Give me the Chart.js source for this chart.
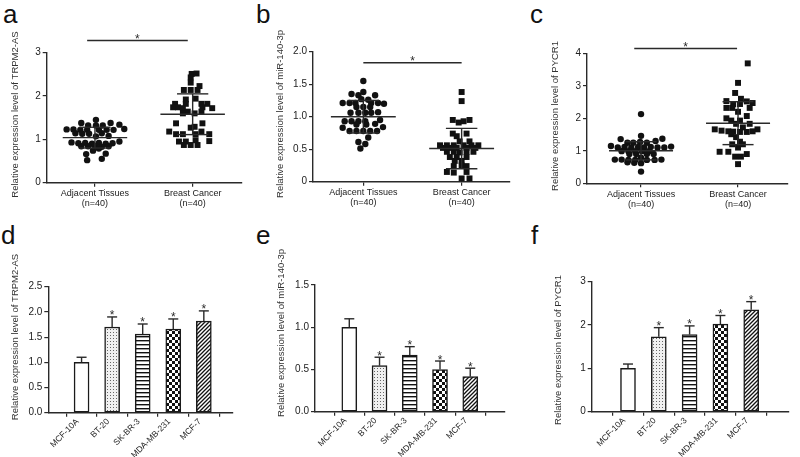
<!DOCTYPE html>
<html>
<head>
<meta charset="utf-8">
<script src="https://cdn.jsdelivr.net/npm/chart.js@4.4.1/dist/chart.umd.min.js"></script>
<style>
  body { margin: 0; background: #fff; width: 800px; height: 457px; position: relative; overflow: hidden;
         font-family: "Liberation Sans", Arial, sans-serif; }
  canvas { position: absolute; }
  .tag { position: absolute; font-size: 26px; line-height: 26px; color: #111; }
</style>
</head>
<body>
<div class="tag" style="left:3px;top:1px">a</div>
<div class="tag" style="left:256px;top:1px">b</div>
<div class="tag" style="left:530px;top:1px">c</div>
<div class="tag" style="left:1px;top:222px">d</div>
<div class="tag" style="left:256px;top:222px">e</div>
<div class="tag" style="left:531px;top:222px">f</div>
<canvas id="pa"></canvas>
<canvas id="pb"></canvas>
<canvas id="pc"></canvas>
<canvas id="pd"></canvas>
<canvas id="pe"></canvas>
<canvas id="pf"></canvas>
<script>
// ---- data ----
const groups = [["Adjacent Tissues", "(n=40)"], ["Breast Cancer", "(n=40)"]];
const cellLines = ["MCF-10A", "BT-20", "SK-BR-3", "MDA-MB-231", "MCF-7"];
const cellStars = ["", "*", "*", "*", "*"];

// [jitter, value] per sample
const trpm2Adjacent = [
  [0.01,1.45],[-0.14,1.38],[0.16,1.38],
  [-0.07,1.32],[0.01,1.32],[0.08,1.32],[0.25,1.34],
  [-0.29,1.23],[-0.22,1.23],[-0.15,1.22],[-0.08,1.22],[0.04,1.22],[0.12,1.22],[0.19,1.22],[0.30,1.24],
  [-0.20,1.14],[-0.13,1.13],[-0.06,1.13],[0.07,1.14],[0.14,1.08],[0.01,1.07],
  [-0.24,0.93],[-0.17,0.91],[-0.10,0.92],[-0.03,0.90],[0.04,0.92],[0.11,0.90],[0.18,0.91],[0.25,0.95],
  [-0.14,0.84],[-0.07,0.84],[0.00,0.85],[0.07,0.83],[0.14,0.84],
  [-0.02,0.74],[0.04,0.79],[-0.09,0.66],[0.11,0.67],[-0.08,0.52],[0.07,0.55]
];
const trpm2Cancer = [
  [-0.01,2.51],[0.04,2.52],[-0.02,2.43],[-0.02,2.31],[0.07,2.23],
  [-0.09,2.14],[-0.02,2.14],[0.05,2.14],[-0.07,1.92],[0.03,1.94],
  [-0.18,1.82],[-0.07,1.82],[0.09,1.82],[0.15,1.82],
  [-0.20,1.74],[-0.15,1.74],[-0.10,1.72],[0.10,1.74],[0.20,1.72],
  [-0.05,1.64],[0.09,1.64],[-0.10,1.60],[0.02,1.60],
  [-0.17,1.37],[0.10,1.37],[-0.02,1.27],[0.02,1.29],[-0.24,1.18],[0.09,1.18],
  [-0.17,1.12],[-0.10,1.12],[0.03,1.12],[0.17,1.12],
  [0.03,0.98],[-0.14,0.95],[-0.07,0.95],[0.17,0.96],[-0.09,0.87],[-0.02,0.87],[0.05,0.87]
];
const trpm2Mean = [1.04, 1.58];
const trpm2Sd = [0.24, 0.47];

const mirAdjacent = [
  [0.00,1.55],[0.00,1.38],[-0.12,1.35],[-0.05,1.33],[0.12,1.33],[-0.02,1.27],[0.05,1.26],
  [-0.21,1.21],[-0.14,1.21],[-0.08,1.21],[0.08,1.21],[0.15,1.21],[0.21,1.20],
  [-0.07,1.15],[0.00,1.15],[0.07,1.15],
  [-0.13,1.06],[-0.05,1.06],[0.02,1.06],[0.08,1.06],[0.15,1.07],
  [-0.19,0.93],[-0.12,0.93],[-0.05,0.93],[0.02,0.93],[0.17,0.95],
  [-0.07,0.88],[0.03,0.88],[0.12,0.89],[-0.21,0.83],[0.20,0.84],
  [-0.14,0.78],[-0.07,0.78],[0.00,0.78],[0.07,0.78],[0.14,0.78],
  [0.05,0.68],[-0.05,0.61],[0.02,0.58],[-0.03,0.51]
];
const mirCancer = [
  [0.00,1.38],[0.00,1.24],[-0.09,0.95],[0.08,0.95],[-0.03,0.91],[0.02,0.93],
  [-0.09,0.74],[0.05,0.74],[-0.05,0.70],[-0.02,0.62],[0.08,0.62],
  [-0.22,0.56],[-0.15,0.56],[-0.08,0.56],[0.02,0.56],[0.10,0.56],[0.17,0.56],
  [-0.19,0.52],[-0.12,0.52],[-0.05,0.52],[0.05,0.52],[0.14,0.52],
  [-0.15,0.46],[-0.08,0.46],[-0.02,0.45],[0.05,0.46],[0.12,0.46],
  [-0.12,0.38],[-0.05,0.38],[0.05,0.38],[-0.07,0.32],[0.00,0.32],
  [-0.08,0.24],[0.00,0.25],[0.05,0.24],
  [-0.15,0.15],[-0.08,0.14],[0.05,0.15],[0.00,0.05],[0.08,0.05]
];
const mirMean = [1.00, 0.51];
const mirSd = [0.25, 0.31];

const pycrAdjacent = [
  [0.00,2.13],[0.00,1.46],[-0.21,1.36],[0.22,1.37],
  [-0.14,1.25],[-0.08,1.25],[-0.01,1.27],[0.06,1.25],[0.15,1.30],
  [-0.31,1.15],[-0.24,1.10],[-0.17,1.12],[-0.10,1.10],[-0.03,1.12],[0.03,1.10],[0.10,1.12],[0.17,1.10],[0.24,1.10],[0.31,1.13],
  [-0.20,0.99],[-0.13,0.99],[-0.06,0.99],[0.01,0.99],[0.08,0.99],
  [-0.12,0.90],[-0.05,0.90],[0.06,0.90],[0.13,0.90],[0.00,0.79],
  [-0.27,0.73],[-0.20,0.73],[-0.13,0.72],[-0.06,0.72],[0.06,0.72],[0.14,0.72],[0.21,0.73],
  [-0.14,0.65],[-0.07,0.63],[0.00,0.62],[0.00,0.36]
];
const pycrCancer = [
  [0.10,3.69],[0.00,3.09],[-0.03,2.78],[0.03,2.60],[-0.12,2.53],[0.09,2.52],[0.15,2.47],
  [-0.05,2.43],[0.02,2.44],[-0.12,2.32],[-0.06,2.32],[0.12,2.32],
  [0.00,2.20],[0.09,2.07],[-0.12,2.00],[-0.07,1.93],[0.02,1.93],
  [-0.02,1.83],[0.12,1.83],[0.05,1.72],
  [-0.24,1.66],[-0.17,1.62],[-0.10,1.60],[0.20,1.66],
  [-0.05,1.59],[0.02,1.58],[0.09,1.58],[0.15,1.60],
  [-0.07,1.51],[-0.02,1.42],[0.02,1.28],[-0.06,1.20],[0.05,1.20],[0.00,1.10],
  [-0.19,0.97],[-0.10,0.97],[0.09,0.90],[-0.03,0.82],[0.03,0.82],[0.00,0.59]
];
const pycrMean = [1.00, 1.85];
const pycrSd = [0.28, 0.66];

const trpm2Cells = [1.00, 1.70, 1.56, 1.66, 1.82];
const trpm2CellsErr = [0.10, 0.20, 0.20, 0.20, 0.20];
const mirCells = [1.00, 0.545, 0.67, 0.50, 0.415];
const mirCellsErr = [0.10, 0.10, 0.10, 0.10, 0.10];
const pycrCells = [1.00, 1.73, 1.78, 2.02, 2.35];
const pycrCellsErr = [0.10, 0.21, 0.20, 0.20, 0.19];

// ---- style helpers ----
const FONT = '"Liberation Sans", Arial, sans-serif';
Chart.defaults.font.family = FONT;
Chart.defaults.color = '#222';
const INK = '#2a2a2a';

function pattern(w, h, draw) {
  const c = document.createElement('canvas');
  c.width = w; c.height = h;
  const g = c.getContext('2d');
  g.fillStyle = '#fff'; g.fillRect(0, 0, w, h);
  g.fillStyle = '#111'; g.strokeStyle = '#111';
  draw(g);
  return g.createPattern(c, 'repeat');
}
function barFills() {
  return [
    '#fff',
    pattern(3, 3, g => { g.fillStyle = '#f0f0f0'; g.fillRect(0, 0, 3, 3); g.fillStyle = '#666'; g.fillRect(1, 1, 1, 1); }),
    pattern(4, 4, g => { g.fillRect(0, 0, 4, 1.4); }),
    pattern(6, 6, g => { g.fillRect(0, 0, 3, 3); g.fillRect(3, 3, 3, 3); }),
    pattern(4, 4, g => { g.lineWidth = 1.3; g.beginPath(); g.moveTo(-1, 5); g.lineTo(5, -1);
      g.moveTo(-1, 1); g.lineTo(1, -1); g.moveTo(3, 5); g.lineTo(5, 3); g.stroke(); })
  ];
}

const decor = {
  id: 'decor',
  afterDraw(chart, args, o) {
    const ctx = chart.ctx, xs = chart.scales.x, ys = chart.scales.y;
    const px = v => xs.getPixelForValue(v), py = v => ys.getPixelForValue(v);
    const line = (x1, y1, x2, y2) => { ctx.beginPath(); ctx.moveTo(x1, y1); ctx.lineTo(x2, y2); ctx.stroke(); };
    const star = (x, y) => { ctx.font = '12px ' + FONT; ctx.textAlign = 'center'; ctx.textBaseline = 'alphabetic'; ctx.fillText('*', x, y + 2.5); };
    ctx.save();
    ctx.strokeStyle = INK; ctx.fillStyle = INK; ctx.lineWidth = 1.4;
    if (o.means) o.means.forEach((m, i) => {
      const s = o.sds[i];
      line(px(i - 0.33), py(m), px(i + 0.33), py(m));
      line(px(i - 0.16), py(m + s), px(i + 0.16), py(m + s));
      line(px(i - 0.16), py(m - s), px(i + 0.16), py(m - s));
      line(px(i), py(m - s), px(i), py(m + s));
    });
    if (o.sig) {
      const y = py(o.sig.y);
      line(px(o.sig.from), y, px(o.sig.to), y);
      star((px(o.sig.from) + px(o.sig.to)) / 2, y);
    }
    if (o.values) o.values.forEach((v, i) => {
      const x = px(i), top = py(v), cap = py(v + o.errs[i]);
      line(x, top, x, cap);
      line(x - 5, cap, x + 5, cap);
      if (o.stars[i]) star(x, cap);
    });
    if (o.title) {
      ctx.translate(o.title.x, o.title.y);
      ctx.rotate(-Math.PI / 2);
      ctx.font = '9.5px ' + FONT; ctx.fillStyle = '#333';
      ctx.textAlign = 'center'; ctx.textBaseline = 'middle';
      ctx.fillText(o.title.text, 0, 0);
    }
    ctx.restore();
  }
};

function axis(extra) {
  return Object.assign({
    type: 'linear',
    border: { display: true, color: INK, width: 1.4 },
    grid: { display: true, drawOnChartArea: false, drawTicks: true, tickLength: 4, color: INK, lineWidth: 1.2 },
  }, extra);
}

function panel(id, box, area, type, datasets, xOpts, yOpts, decorOpts) {
  const cv = document.getElementById(id);
  cv.width = box.r - box.l; cv.height = box.b - box.t;
  cv.style.left = box.l + 'px'; cv.style.top = box.t + 'px';
  decorOpts.title.x -= box.l;
  decorOpts.title.y -= box.t;
  new Chart(cv.getContext('2d'), {
    type: type,
    data: { datasets: datasets },
    options: {
      responsive: false, animation: false, devicePixelRatio: 1,
      layout: { padding: { left: 0, bottom: 0, top: area.t - box.t, right: box.r - area.r } },
      plugins: { legend: { display: false }, tooltip: { enabled: false }, decor: decorOpts },
      scales: {
        x: axis(Object.assign({ afterFit: s => { s.height = box.b - area.b; } }, xOpts)),
        y: axis(Object.assign({ afterFit: s => { s.width = area.l - box.l; } }, yOpts))
      }
    },
    plugins: [decor]
  });
}

function scatterSets(adj, can) {
  const base = { showLine: false, clip: false, borderWidth: 0, pointBorderWidth: 0, backgroundColor: '#111', pointBackgroundColor: '#111' };
  return [
    Object.assign({ data: adj.map(p => ({ x: 0 + p[0], y: p[1] })), pointStyle: 'circle', pointRadius: 3.2 }, base),
    Object.assign({ data: can.map(p => ({ x: 1 + p[0], y: p[1] })), pointStyle: 'rect', pointRadius: 4.2 }, base)
  ];
}
function scatterX(min, max) {
  return {
    min: min, max: max,
    afterBuildTicks: s => { s.ticks = groups.map((g, i) => ({ value: i })); },
    ticks: { font: { size: 9, lineHeight: 1.1 }, padding: 2, color: '#222', callback: v => groups[v] }
  };
}
function barSets(vals) {
  return [{ data: vals.map((v, i) => ({ x: i, y: v })), backgroundColor: barFills(), borderColor: '#1a1a1a',
            borderWidth: 1.5, borderSkipped: false, barThickness: 15 }];
}
function barX(min, max) {
  return {
    min: min, max: max,
    afterBuildTicks: s => { s.ticks = cellLines.map((c, i) => ({ value: i })); },
    ticks: { font: { size: 8.5 }, padding: 0, color: '#222', autoSkip: false, minRotation: 45, maxRotation: 45,
             labelOffset: -4, callback: v => cellLines[v] }
  };
}
function yTicks(max, step, fmt) {
  return { min: 0, max: max, ticks: { stepSize: step, font: { size: 10 }, padding: 2, color: '#222', callback: fmt } };
}
const int = v => String(v);
const one = v => v.toFixed(1);

window.onload = function () {
  panel('pa', { l: 6, t: 30, r: 262, b: 220 }, { l: 46.7, t: 52.7, r: 241.7, b: 182.7 }, 'scatter',
    scatterSets(trpm2Adjacent, trpm2Cancer), scatterX(-0.494, 1.502), yTicks(3, 1, int),
    { means: trpm2Mean, sds: trpm2Sd, sig: { from: -0.08, to: 0.95, y: 3.28 },
      title: { text: 'Relative expression level of TRPM2-AS', x: 15, y: 114.5 } });

  panel('pb', { l: 272, t: 30, r: 530, b: 220 }, { l: 313, t: 51.7, r: 510, b: 181.7 }, 'scatter',
    scatterSets(mirAdjacent, mirCancer), scatterX(-0.512, 1.492), yTicks(2, 0.5, v => v === 0 ? '0' : v.toFixed(1)),
    { means: mirMean, sds: mirSd, sig: { from: 0, to: 1.0, y: 1.83 },
      title: { text: 'Relative expression level of miR-140-3p', x: 280, y: 114 } });

  panel('pc', { l: 546, t: 30, r: 800, b: 220 }, { l: 587, t: 53.3, r: 788, b: 183.3 }, 'scatter',
    scatterSets(pycrAdjacent, pycrCancer), scatterX(-0.557, 1.515), yTicks(4, 1, int),
    { means: pycrMean, sds: pycrSd, sig: { from: -0.07, to: 0.99, y: 4.15 },
      title: { text: 'Relative expression level of PYCR1', x: 555, y: 116 } });

  panel('pd', { l: 7, t: 232, r: 262, b: 457 }, { l: 48.3, t: 286.7, r: 233, b: 412.7 }, 'bar',
    barSets(trpm2Cells), barX(-0.484, 4.35), yTicks(2.5, 0.5, one),
    { values: trpm2Cells, errs: trpm2CellsErr, stars: cellStars,
      title: { text: 'Relative expression level of TRPM2-AS', x: 15, y: 337 } });

  panel('pe', { l: 274, t: 232, r: 530, b: 457 }, { l: 315, t: 285, r: 504.3, b: 411.7 }, 'bar',
    barSets(mirCells), barX(-0.508, 4.5), yTicks(1.5, 0.5, one),
    { values: mirCells, errs: mirCellsErr, stars: cellStars,
      title: { text: 'Relative expression level of miR-140-3p', x: 281, y: 333 } });

  panel('pf', { l: 550, t: 232, r: 800, b: 457 }, { l: 591.7, t: 281.7, r: 788.3, b: 411.7 }, 'bar',
    barSets(pycrCells), barX(-0.54, 4.566), yTicks(3, 1, int),
    { values: pycrCells, errs: pycrCellsErr, stars: cellStars,
      title: { text: 'Relative expression level of PYCR1', x: 558, y: 350 } });
};
</script>
</body>
</html>
